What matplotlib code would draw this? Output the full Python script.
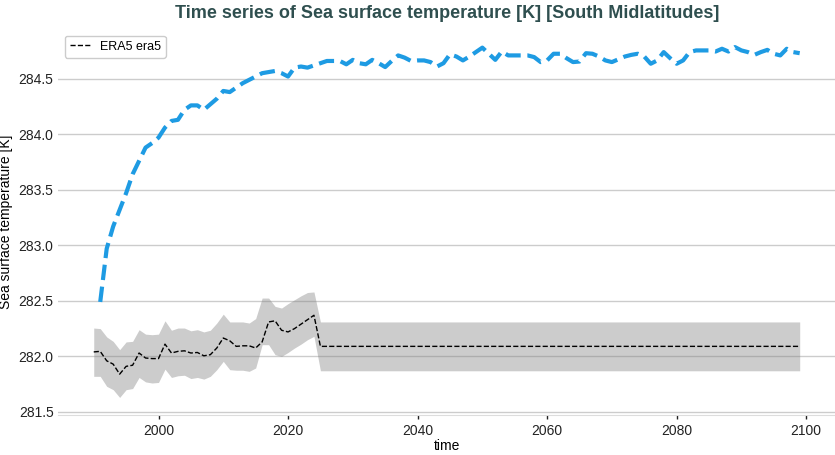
import numpy as np
import matplotlib
matplotlib.use("Agg")
import matplotlib.pyplot as plt

plt.rcParams['font.family'] = ['Liberation Sans', 'DejaVu Sans']

# ERA5 reference (1990-2024), then climatology held flat to 2099
era5_years = np.arange(1990, 2025)
era5_mean = [282.04, 282.045, 281.96, 281.93, 281.84, 281.91, 281.92, 282.03, 281.985, 281.98,
             281.98, 282.11, 282.03, 282.045, 282.05, 282.03, 282.035, 282.005, 282.015, 282.075,
             282.165, 282.14, 282.09, 282.095, 282.095, 282.075, 282.13, 282.31, 282.32, 282.235,
             282.22, 282.25, 282.29, 282.33, 282.37]
era5_upper = [282.255, 282.25, 282.175, 282.135, 282.06, 282.13, 282.135, 282.24, 282.2, 282.195,
              282.2, 282.32, 282.235, 282.255, 282.255, 282.23, 282.24, 282.22, 282.235, 282.30,
              282.38, 282.31, 282.31, 282.31, 282.30, 282.34, 282.525, 282.525, 282.45, 282.435,
              282.475, 282.51, 282.545, 282.575, 282.58]
era5_lower = [281.82, 281.82, 281.73, 281.70, 281.63, 281.70, 281.71, 281.81, 281.77, 281.76,
              281.765, 281.885, 281.81, 281.825, 281.83, 281.80, 281.81, 281.795, 281.82, 281.88,
              281.955, 281.88, 281.875, 281.875, 281.865, 281.895, 282.105, 282.105, 282.015, 282.0,
              282.035, 282.075, 282.11, 282.15, 282.18]
clim_years = np.arange(2025, 2100)
clim_mean = 282.09
clim_upper = 282.31
clim_lower = 281.87

# model run 1991-2099
model_years = np.arange(1991, 2100)
model_sst = [282.49, 282.97, 283.17, 283.32, 283.47, 283.64, 283.76, 283.88, 283.92,
             283.97, 284.06, 284.12, 284.13, 284.22, 284.26, 284.26, 284.22, 284.27, 284.32,
             284.39, 284.38, 284.42, 284.46, 284.49, 284.52, 284.55, 284.56, 284.57, 284.55,
             284.52, 284.60, 284.61, 284.60, 284.62, 284.64, 284.66, 284.66, 284.66, 284.63,
             284.67, 284.64, 284.63, 284.67, 284.64, 284.605, 284.66, 284.71, 284.69, 284.66,
             284.665, 284.665, 284.65, 284.61, 284.64, 284.72, 284.70, 284.665, 284.70, 284.74,
             284.78, 284.725, 284.67, 284.745, 284.71, 284.71, 284.71, 284.71, 284.695, 284.65,
             284.665, 284.725, 284.725, 284.685, 284.65, 284.655, 284.73, 284.725, 284.70, 284.665,
             284.65, 284.675, 284.70, 284.715, 284.725, 284.70, 284.635, 284.665, 284.74, 284.685,
             284.635, 284.665, 284.74, 284.755, 284.755, 284.755, 284.745, 284.77, 284.745, 284.785,
             284.755, 284.74, 284.715, 284.74, 284.76, 284.725, 284.71, 284.77, 284.74, 284.73]

years = np.concatenate([era5_years, clim_years])
mean = np.concatenate([era5_mean, np.full(len(clim_years), clim_mean)])
upper = np.concatenate([era5_upper, np.full(len(clim_years), clim_upper)])
lower = np.concatenate([era5_lower, np.full(len(clim_years), clim_lower)])

fig, ax = plt.subplots(figsize=(8.35, 4.55), dpi=100)
fig.subplots_adjust(left=0.07, right=1.0, top=0.935, bottom=0.088)

ax.fill_between(years, lower, upper, color='grey', alpha=0.4, linewidth=0)
ax.plot(years, mean, color='black', linestyle='--', linewidth=1.0, label='ERA5 era5')
ax.plot(model_years, model_sst, color='#1E9BE3', linestyle='--', linewidth=3.0)

ax.set_yticks([281.5, 282.0, 282.5, 283.0, 283.5, 284.0, 284.5])
ax.set_xticks([2000, 2020, 2040, 2060, 2080, 2100])
ax.grid(axis='y', color='#cccccc', linewidth=1.0)
ax.set_axisbelow(True)
for side in ['left', 'right', 'top']:
    ax.spines[side].set_visible(False)
ax.spines['bottom'].set_color('#dddddd')
ax.tick_params(axis='y', length=0, labelsize=10, colors='#222222')
ax.tick_params(axis='x', length=3, width=1, labelsize=10, colors='#222222')

ax.set_xlabel('time', fontsize=10, labelpad=1)
ax.set_ylabel('Sea surface temperature [K]', fontsize=10)
ax.set_title('Time series of Sea surface temperature [K] [South Midlatitudes]',
             fontsize=13, fontweight='bold', color='#2F4F4F', pad=8)
ax.legend(loc='upper left', fontsize=9, framealpha=1, edgecolor='#cccccc',
          handlelength=1.6)

fig.savefig('out.png', dpi=100)
